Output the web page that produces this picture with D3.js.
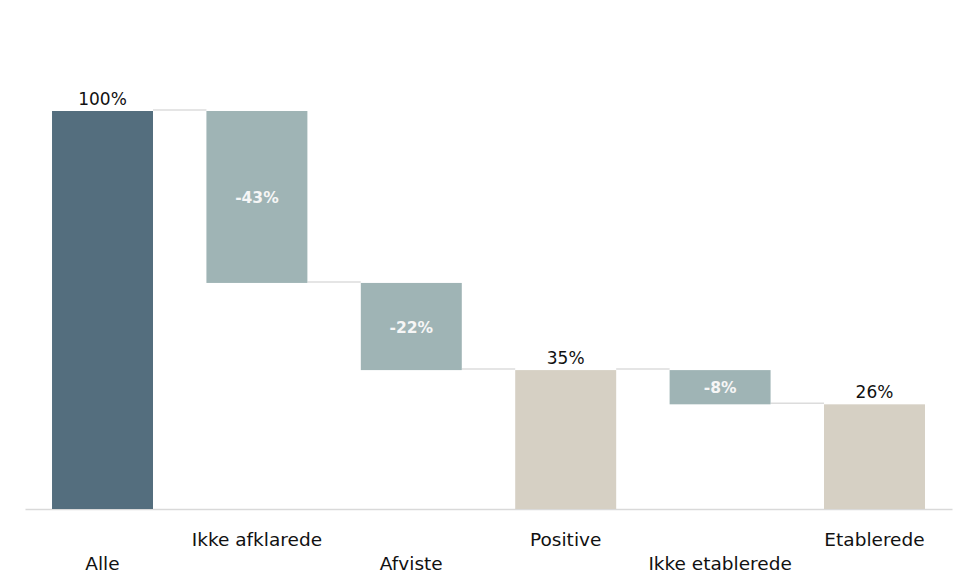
<!DOCTYPE html>
<html>
<head>
<meta charset="utf-8">
<script src="https://cdn.jsdelivr.net/npm/d3@7"></script>
<style>
  html, body { margin: 0; padding: 0; background: #fff; }
  svg text { font-family: "DejaVu Sans", Verdana, sans-serif; }
</style>
</head>
<body>
<svg id="chart" width="965" height="574"></svg>
<script>
const categories = ["Alle", "Ikke afklarede", "Afviste", "Positive", "Ikke etablerede", "Etablerede"];
const kinds = ["start", "delta", "delta", "total", "delta", "total"];
const values = [100, -43.2, -21.9, 34.9, -8.6, 26.3];
const valueLabels = ["100%", "-43%", "-22%", "35%", "-8%", "26%"];

const colors = { start: "#546e7e", delta: "#9fb4b5", total: "#d6d0c4" };

const svg = d3.select("#chart");

const x = d3.scaleBand().domain(categories).range([25, 952]).paddingInner(0.346).paddingOuter(0.175);
const y = d3.scaleLinear().domain([0, 100]).range([509, 111]);

let level = 0;
const segs = categories.map((c, i) => {
  let y0, y1;
  if (kinds[i] === "delta") {
    y0 = level; y1 = level + values[i]; level = y1;
  } else {
    y0 = 0; y1 = values[i]; level = y1;
  }
  return { c, i, kind: kinds[i], lo: Math.min(y0, y1), hi: Math.max(y0, y1), end: level, label: valueLabels[i] };
});

// axis baseline
const axis = svg.append("g").attr("transform", `translate(0,${y(0)})`)
  .call(d3.axisBottom(x).tickSize(0).tickFormat(""));
axis.select(".domain").attr("stroke", "#d9d9d9").attr("stroke-width", 1.5);

// connectors
svg.append("g").selectAll("line").data(segs.slice(0, -1)).join("line")
  .attr("x1", d => x(d.c) + x.bandwidth())
  .attr("x2", d => x(categories[d.i + 1]))
  .attr("y1", d => y(d.kind === "delta" ? d.lo : d.hi) - 1)
  .attr("y2", d => y(d.kind === "delta" ? d.lo : d.hi) - 1)
  .attr("stroke", "#dcdcdc").attr("stroke-width", 1.5);

// bars
svg.append("g").selectAll("rect").data(segs).join("rect")
  .attr("x", d => x(d.c))
  .attr("width", x.bandwidth())
  .attr("y", d => y(d.hi))
  .attr("height", d => y(d.lo) - y(d.hi))
  .attr("fill", d => colors[d.kind]);

// value labels
svg.append("g").selectAll("text").data(segs).join("text")
  .attr("x", d => x(d.c) + x.bandwidth() / 2)
  .attr("y", d => d.kind === "delta" ? (y(d.hi) + y(d.lo)) / 2 + 6 : y(d.hi) - 6)
  .attr("text-anchor", "middle")
  .attr("font-size", d => d.kind === "delta" ? 15.5 : 17)
  .attr("font-weight", d => d.kind === "delta" ? "bold" : "normal")
  .attr("fill", d => d.kind === "delta" ? "#f6f6f6" : "#111111")
  .text(d => d.label);

// category labels (staggered)
svg.append("g").selectAll("text").data(categories).join("text")
  .attr("x", d => x(d) + x.bandwidth() / 2)
  .attr("y", (d, i) => i % 2 === 0 ? 570 : 546)
  .attr("text-anchor", "middle")
  .attr("font-size", 18.5)
  .attr("fill", "#111111")
  .text(d => d);
</script>
</body>
</html>
